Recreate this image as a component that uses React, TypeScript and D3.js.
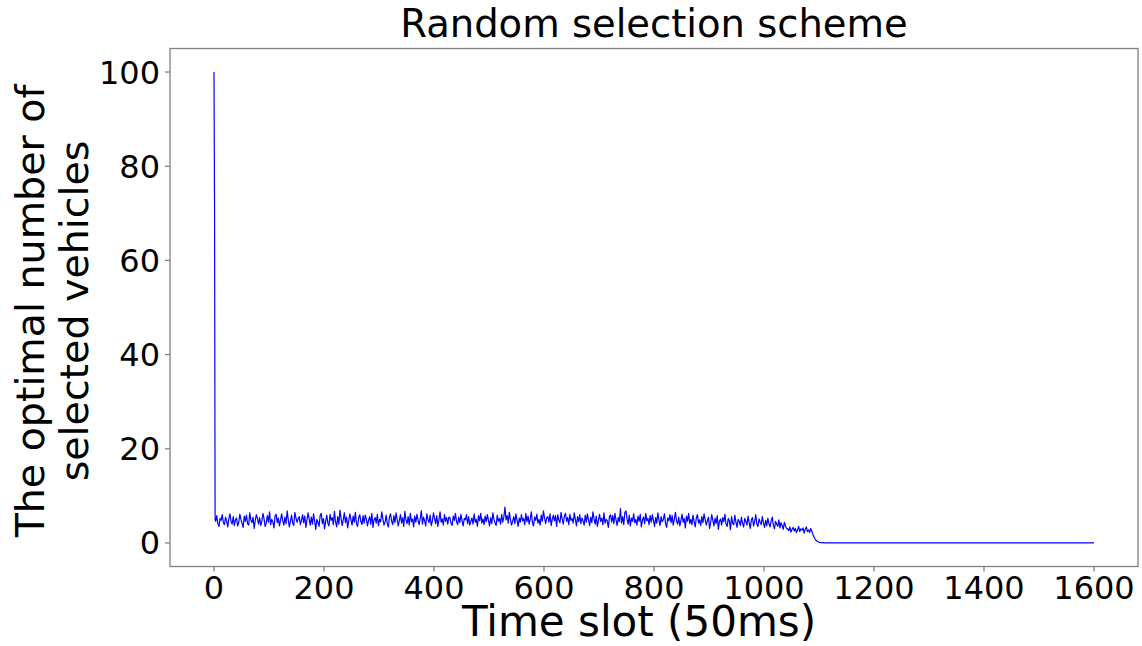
import React, { useEffect } from "react";
import * as d3 from "d3";

const title = "Random selection scheme";
const xLabel = "Time slot (50ms)";
const yLabelLines = ["The optimal number of", "selected vehicles"];
const xTicks = [0, 200, 400, 600, 800, 1000, 1200, 1400, 1600];
const yTicks = [0, 20, 40, 60, 80, 100];

// initial spike
const startSlots = [0, 1, 2];
const startValues = [100, 71, 5];

// noisy phase, every 2nd slot from 3 to 1089
const noiseFirst = 3;
const noiseStep = 2;
const noiseValues = [
  4.6,5.8,4.1,3.5,5.2,4.8,6.0,4.3,3.9,5.5,4.7,3.4,5.1,6.2,4.5,4.0,5.6,3.7,4.9,5.3,
  3.6,4.4,6.1,5.0,4.2,3.3,5.7,4.6,5.9,4.1,3.8,6.4,4.9,4.3,5.5,3.1,4.8,6.0,5.2,4.0,
  5.4,3.7,4.6,6.3,5.1,3.5,4.2,5.8,4.4,6.6,3.9,5.0,4.5,3.2,5.7,6.1,4.3,5.3,3.6,4.9,
  6.2,4.7,3.8,5.5,4.1,6.8,5.0,3.4,4.6,5.9,4.2,3.7,6.5,5.3,4.4,5.1,5.6,3.9,4.8,6.0,
  4.3,5.7,3.3,4.9,6.4,5.1,3.8,5.5,4.0,6.2,4.7,2.9,5.0,4.4,3.5,5.8,6.3,4.1,5.2,3.0,
  4.6,5.9,4.2,3.6,6.1,4.8,5.4,3.9,6.7,4.5,3.4,5.6,4.0,7.0,5.2,3.7,4.9,6.4,4.3,5.5,
  3.2,4.7,6.2,5.0,3.8,5.7,4.4,6.5,4.1,3.5,5.3,6.0,4.6,3.9,5.8,4.2,5.9,5.1,3.6,4.8,
  5.6,4.0,6.3,3.3,4.9,5.4,4.2,6.1,3.7,5.0,4.5,6.6,5.2,3.8,4.4,5.9,4.1,3.4,5.5,6.2,
  4.6,3.9,5.8,4.3,6.4,5.0,3.6,4.8,6.0,4.2,5.4,3.5,6.7,4.9,4.1,5.6,3.8,6.3,4.5,5.1,
  3.4,5.7,4.4,6.1,4.8,3.9,5.3,6.8,4.0,5.5,4.7,3.6,6.2,5.0,4.3,5.9,3.7,4.6,6.4,5.2,
  4.1,5.8,3.5,4.9,6.6,4.4,5.1,3.8,6.0,4.6,5.4,4.0,5.5,5.3,4.2,3.7,5.7,4.8,6.3,4.5,
  3.9,5.5,4.3,6.1,4.7,3.6,5.2,4.9,6.0,4.1,5.6,3.8,4.6,5.3,4.0,6.2,4.4,5.0,3.5,5.8,
  4.7,6.3,4.2,5.1,3.9,5.7,4.5,6.0,4.8,3.6,5.4,4.1,6.4,5.0,4.3,3.7,5.9,4.6,5.2,4.0,
  6.1,4.4,5.5,7.6,4.9,5.8,4.2,6.5,5.0,3.8,4.6,5.6,4.1,6.2,4.8,3.5,5.3,4.4,6.0,4.7,
  5.2,3.9,6.3,4.5,5.7,4.0,5.1,6.6,4.3,3.6,5.5,4.8,6.1,4.2,5.0,3.8,5.9,4.6,6.8,5.3,
  4.1,5.4,5.6,4.4,6.2,3.7,5.0,5.9,4.7,5.8,3.5,6.0,4.9,4.3,6.5,5.1,4.0,5.7,6.3,4.6,
  5.4,3.9,6.1,4.8,5.2,4.2,6.4,5.0,3.6,5.6,4.5,6.0,4.1,5.3,4.7,3.8,5.9,4.4,6.2,4.9,
  3.7,5.5,4.3,6.6,5.1,4.0,5.7,3.5,4.8,6.1,4.6,5.3,3.9,6.4,4.2,5.0,4.7,3.3,5.6,6.0,
  4.4,5.8,4.1,6.3,4.9,3.7,5.4,4.5,7.3,4.2,5.6,3.9,6.5,6.8,5.1,4.0,5.9,3.6,5.3,4.6,
  6.2,4.3,5.0,3.8,5.7,4.6,6.1,3.4,4.9,5.5,4.1,6.3,4.7,5.2,3.9,5.8,4.4,6.0,4.8,3.5,
  5.4,4.2,6.4,4.9,3.7,5.6,4.5,5.0,6.2,4.1,3.3,5.3,4.7,6.0,4.3,5.8,3.8,5.1,6.5,4.6,
  4.0,5.5,3.6,4.8,6.1,4.4,5.2,3.2,5.7,4.6,6.3,4.1,5.0,3.9,5.9,4.5,3.4,5.4,6.0,4.2,
  4.9,3.7,5.6,4.3,6.2,5.0,3.8,4.7,5.5,3.1,4.4,6.0,4.8,3.6,5.3,4.1,5.8,2.9,4.6,5.1,
  3.8,5.4,4.5,6.1,4.0,3.5,5.2,4.7,2.8,5.6,4.2,3.9,5.9,4.4,3.3,5.0,4.6,3.7,5.5,4.1,
  3.4,5.2,4.6,3.8,5.7,4.3,3.1,4.9,5.4,3.6,4.5,6.0,4.0,3.5,5.1,4.4,3.9,5.6,4.2,3.3,
  4.8,3.6,5.3,4.1,3.4,4.7,5.5,3.8,3.0,4.6,4.0,3.5,4.9,3.2,4.3,3.7,2.9,4.4,3.6,3.1,
  3.0,2.6,3.4,2.3,2.9,3.3,2.5,3.1,2.2,2.8,3.5,2.4,3.0,2.7,3.2,2.1,2.9,3.4,2.4,2.8,
  2.2,3.1,2.5,1.8,
];

// decay and flat tail
const tailSlots = [1092, 1095, 1098, 1101, 1104, 1110, 1120, 1600];
const tailValues = [1.0, 0.5, 0.25, 0.12, 0.05, 0.02, 0, 0];

const W = 1142;
const H = 646;
const M = { left: 170, right: 1138, top: 48.5, bottom: 566.5 };
const FONT = "'DejaVu Sans', sans-serif";

export default function App() {
  useEffect(() => {
    document.body.style.margin = "0";
  }, []);

  const points: [number, number][] = [];
  startSlots.forEach((t, i) => points.push([t, startValues[i]]));
  noiseValues.forEach((v, i) => points.push([noiseFirst + i * noiseStep, v]));
  tailSlots.forEach((t, i) => points.push([t, tailValues[i]]));

  const x = d3.scaleLinear().domain([-80, 1680]).range([M.left, M.right]);
  const y = d3.scaleLinear().domain([-5, 105]).range([M.bottom, M.top]);
  const line = d3
    .line<[number, number]>()
    .x((d) => x(d[0]))
    .y((d) => y(d[1]));

  const cx = (M.left + M.right) / 2;
  const spine = "#808080";

  return (
    <svg width={W} height={H} style={{ display: "block", background: "#fff" }}>
      <rect x={0} y={0} width={W} height={H} fill="#fff" />
      <path d={line(points) || ""} fill="none" stroke="#0000ff" strokeWidth={1.2} strokeLinejoin="round" />
      <rect
        x={M.left}
        y={M.top}
        width={M.right - M.left}
        height={M.bottom - M.top}
        fill="none"
        stroke={spine}
        strokeWidth={1.3}
      />
      {xTicks.map((t) => (
        <g key={"x" + t}>
          <line x1={x(t)} x2={x(t)} y1={M.bottom} y2={M.bottom + 5} stroke={spine} strokeWidth={1.3} />
          <text x={x(t)} y={599} textAnchor="middle" fontFamily={FONT} fontSize={32} fill="#000">
            {t}
          </text>
        </g>
      ))}
      {yTicks.map((t) => (
        <g key={"y" + t}>
          <line x1={M.left - 5} x2={M.left} y1={y(t)} y2={y(t)} stroke={spine} strokeWidth={1.3} />
          <text x={160} y={y(t)} dy="0.36em" textAnchor="end" fontFamily={FONT} fontSize={32} fill="#000">
            {t}
          </text>
        </g>
      ))}
      <text x={cx} y={37} textAnchor="middle" fontFamily={FONT} fontSize={38.5} fill="#000">
        {title}
      </text>
      <text x={639} y={636} textAnchor="middle" fontFamily={FONT} fontSize={42} fill="#000">
        {xLabel}
      </text>
      {yLabelLines.map((s, i) => (
        <text
          key={s}
          transform={`translate(${44 + i * 44},${311}) rotate(-90)`}
          textAnchor="middle"
          fontFamily={FONT}
          fontSize={39.5}
          fill="#000"
        >
          {s}
        </text>
      ))}
    </svg>
  );
}
